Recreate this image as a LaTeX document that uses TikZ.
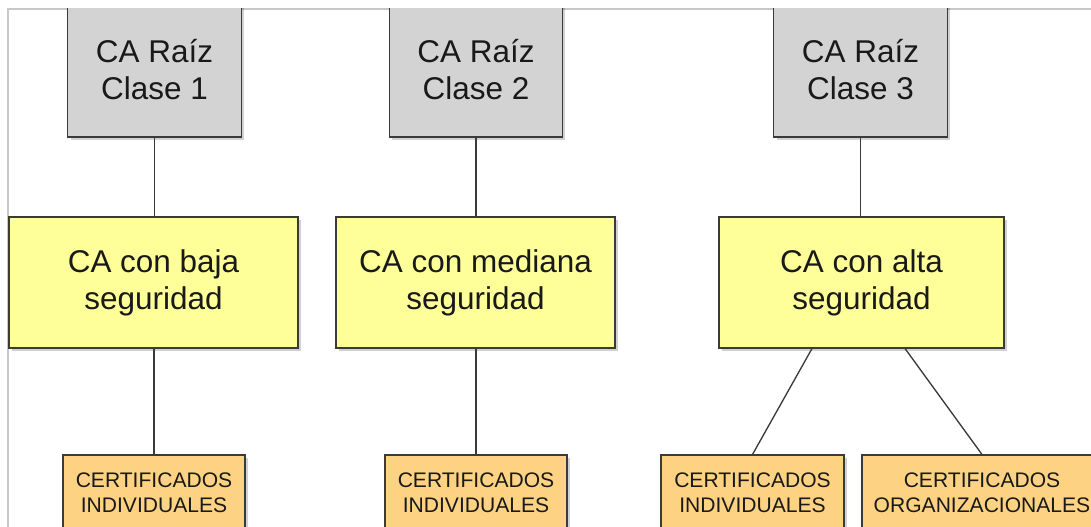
\documentclass[tikz,border=0pt]{standalone}
\usepackage{fontspec}
\setmainfont{Liberation Sans}
\usepackage{tikz}
\usetikzlibrary{positioning,calc,shadows}
\definecolor{RootGray}{HTML}{D3D3D3}
\definecolor{CaYellow}{HTML}{FFFF99}
\definecolor{CertOrange}{HTML}{FDD383}
\definecolor{FrameGray}{HTML}{C8C8C8}
\definecolor{EdgeGray}{HTML}{3A3A3A}

\begin{document}
\begin{tikzpicture}[x=0.75pt, y=-0.75pt, every node/.style={text=black!90, align=center, inner sep=0pt}]
\tikzset{boxshadow/.style={drop shadow={shadow xshift=2pt, shadow yshift=-2pt, opacity=0.18, fill=black}}}
\tikzset{rootbox/.style={draw=EdgeGray, line width=0.8pt, fill=RootGray, boxshadow, minimum width=130pt, minimum height=100.5pt, font=\fontsize{23.6}{27.75}\selectfont}}
\tikzset{cabox/.style={draw=EdgeGray, line width=0.8pt, fill=CaYellow, boxshadow, minimum height=98.25pt, font=\fontsize{23.6}{27.75}\selectfont}}
\tikzset{certbox/.style={draw=EdgeGray, line width=0.8pt, fill=CertOrange, boxshadow, minimum height=56.25pt, font=\fontsize{15.8}{18.75}\selectfont}}
\tikzset{link/.style={draw=EdgeGray, line width=1pt}}
\useasboundingbox (0,0) rectangle (1091,527);
% frame of the view
\draw[FrameGray, line width=0.8pt] (8,527) -- (8,9) -- (1091,9);
\begin{scope}
\clip (8,9) rectangle (1091,527);
% root CAs
\node[rootbox] (r1) at (154.5,70) {CA Raíz\\Clase 1};
\node[rootbox] (r2) at (476,70) {CA Raíz\\Clase 2};
\node[rootbox] (r3) at (860.5,70) {CA Raíz\\Clase 3};
% intermediate CAs
\node[cabox, minimum width=216.75pt] (c1) at (153.5,282.5) {CA con baja\\seguridad};
\node[cabox, minimum width=209.25pt] (c2) at (475.5,282.5) {CA con mediana\\seguridad};
\node[cabox, minimum width=213.75pt] (c3) at (861.5,282.5) {CA con alta\\seguridad};
% certificates
\node[certbox, minimum width=136.5pt] (i1) at (154,492.5) {CERTIFICADOS\\INDIVIDUALES};
\node[certbox, minimum width=136.5pt] (i2) at (476,492.5) {CERTIFICADOS\\INDIVIDUALES};
\node[certbox, minimum width=137.25pt] (i3) at (752.5,492.5) {CERTIFICADOS\\INDIVIDUALES};
\node[certbox, minimum width=180pt] (o3) at (982,492.5) {CERTIFICADOS\\ORGANIZACIONALES};
% links
\draw[link] (r1.south) -- (r1.south |- c1.north);
\draw[link] (r2.south) -- (r2.south |- c2.north);
\draw[link] (r3.south) -- (r3.south |- c3.north);
\draw[link] (i1.north |- c1.south) -- (i1.north);
\draw[link] (i2.north |- c2.south) -- (i2.north);
\draw[link] ($(c3.south)+(-49.5,0)$) -- (i3.north);
\draw[link] ($(c3.south)+(43.5,0)$) -- (o3.north);
\end{scope}
\end{tikzpicture}
\end{document}
